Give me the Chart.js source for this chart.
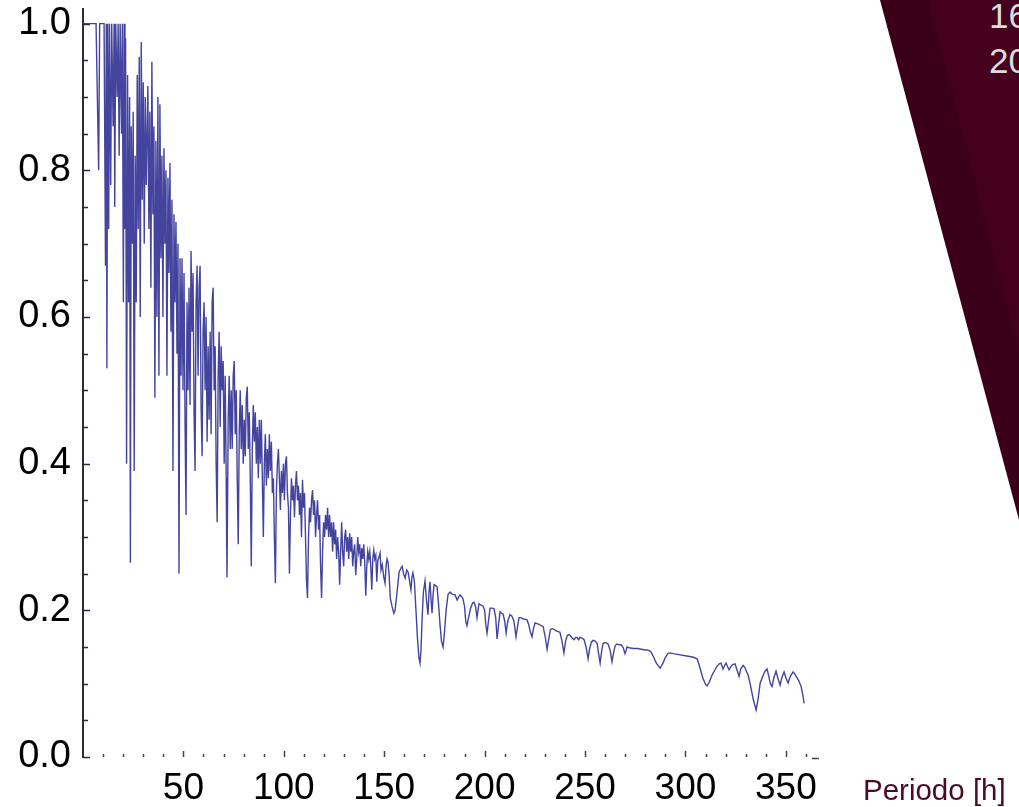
<!DOCTYPE html>
<html lang="es">
<head>
<meta charset="UTF-8">
<title>Periodo</title>
<script src="https://cdn.jsdelivr.net/npm/chart.js"></script>
<style>
  body { margin: 0; background: #fff; overflow: hidden; font-family: "Liberation Sans", Arial, sans-serif; }
  .lienzo { position: relative; width: 1019px; height: 807px; overflow: hidden; }
  .banda { position: absolute; top: 0; left: 0; width: 1019px; height: 807px; }
  .banda.oscura { background: #3b0017; clip-path: polygon(880px 0, 1019px 0, 1019px 520px); }
  .banda.clara { background: #44001c; clip-path: polygon(928px 0, 1019px 0, 1019px 350px); }
  .nota { position: absolute; left: 989px; color: #dcdcdc; font-size: 35px; line-height: 1; white-space: nowrap; }
  .titulo-x { position: absolute; left: 863px; top: 775px; font-size: 29.5px; line-height: 1; color: #4a0a26; white-space: nowrap; }
  canvas { position: absolute; top: 0; left: 0; }
</style>
</head>
<body>
<div class="lienzo">
  <div class="banda oscura"></div>
  <div class="banda clara"></div>
  <div class="nota" style="top:-2px">16</div>
  <div class="nota" style="top:43px">20</div>
  <canvas id="grafico" width="1019" height="807"></canvas>
  <div class="titulo-x">Periodo [h]</div>
</div>
<script>
  // periodo en horas
  const periodo = [
    0, 1, 6.5, 7.8, 8.3, 10.5, 11.2, 11.6, 11.9, 12.3,
    12.8, 13.2, 13.8, 14.3, 15.0, 15.5, 15.8, 16.3, 17.0, 17.5,
    18.0, 18.5, 19.2, 19.6, 20.1, 20.5, 20.9, 21.2,
    21.7, 22.2, 22.7, 23.2, 23.6, 24.0, 24.5, 25.0, 25.5, 26.0,
    26.5, 27.0, 27.5, 28.0, 28.5, 29.0, 29.5, 30.0, 30.5, 31.0,
    31.5, 32.3,
    32.8, 33.3, 33.8, 34.3, 34.8, 35.3, 35.8, 36.3, 36.8, 37.3,
    37.8, 38.3, 38.8, 39.3, 39.8, 40.3, 40.8, 41.3, 41.8, 42.3,
    42.8, 43.3, 43.8, 44.3, 44.8, 45.3, 45.8, 46.3, 46.8, 47.3,
    47.8, 48.3, 48.8, 49.3, 49.8, 50.3, 50.8, 51.3, 51.8, 52.3,
    52.8, 53.3, 53.8, 54.3, 54.8, 55.3, 55.8, 56.3, 56.8, 57.3,
    57.8, 58.3, 58.8, 59.3, 59.8, 60.3, 60.8, 61.3, 61.8, 62.3,
    62.8, 63.3, 63.8, 64.3, 64.8, 65.3, 65.8, 66.3, 66.8, 67.3,
    67.8, 68.3, 68.8, 69.3, 69.8, 70.3, 70.8, 71.3, 71.7, 72.3,
    72.8, 73.3, 73.8, 74.3, 74.8, 75.3, 75.8, 76.3, 76.8, 77.3,
    77.8, 78.3, 78.8, 79.3, 79.8, 80.3, 80.8, 81.3, 81.8, 82.3,
    82.8, 83.3, 83.8, 84.3, 84.8, 85.3, 85.8, 86.3, 86.8, 87.3,
    87.8, 88.3, 88.8, 89.3, 89.8, 90.3, 90.8, 91.3, 91.8, 92.3,
    92.8, 93.3, 93.8, 94.3, 94.8, 95.3, 95.8, 96.3, 96.8, 97.3,
    97.8, 98.3, 98.8, 99.3, 99.8, 100.3, 100.8, 101.3, 101.8, 102.3,
    102.8, 103.3, 103.8, 104.3, 104.8, 105.3, 105.8, 106.3, 106.8, 107.3,
    107.8, 108.3, 108.8, 109.3, 109.8, 110.3, 110.8, 111.3, 111.8, 112.3,
    112.8, 113.3, 113.8, 114.3, 114.8, 115.3, 115.8, 116.3, 116.8, 117.3,
    117.8, 118.3, 118.8, 119.3, 119.8, 120.3, 120.8, 121.3, 121.8, 122.3,
    122.8, 123.3, 123.8, 124.3, 124.8, 125.3, 125.8, 126.3, 126.8, 127.3,
    127.8, 128.3, 128.8, 129.3, 129.8, 130.3, 130.8, 131.3, 131.8, 132.3,
    132.8, 133.3, 133.8, 134.3, 134.8, 135.3, 135.8, 136.3, 136.8, 137.3,
    137.8, 138.3, 138.8, 139.3, 139.8, 140.3, 140.8, 141.3, 141.8, 142.3,
    142.8, 143.3, 143.8, 144.3, 144.8, 145.3, 145.8, 146.3, 146.8, 147.3,
    147.9, 148.4, 149.0, 149.8, 150.4, 150.9, 151.4, 151.9, 152.4, 153.0,
    153.9, 154.8, 155.4, 156.4, 157.4, 158.4, 158.9, 159.6, 160.4, 161.2,
    161.9, 162.6, 163.3, 163.8, 164.3, 165.0, 165.8, 166.6, 167.3, 167.8,
    168.3, 168.8, 169.5, 170.3, 171.0, 171.8, 172.3, 172.8, 173.3, 173.8,
    174.3, 174.8, 175.5, 176.3, 177.0, 177.8, 178.5, 179.3, 180.0, 180.8,
    181.8, 182.8, 183.8, 185.3, 186.3, 187.0, 187.7, 188.5, 189.2, 190.0,
    190.6, 191.2, 192.0, 193.0, 194.0, 194.7, 195.5, 196.2, 196.7, 197.2,
    198.2, 199.2, 200.0, 200.6, 201.2, 201.9, 202.7, 203.7, 204.7, 205.5,
    206.2, 206.9, 207.7, 208.5, 209.2, 210.0, 210.7, 211.5, 212.6, 213.6,
    214.6, 215.6, 216.4, 217.1, 218.1, 219.1, 220.1, 221.1, 222.0, 222.8,
    223.6, 224.4, 225.1, 226.1, 227.1, 228.1, 229.1, 230.1, 231.1, 232.0,
    232.8, 233.6, 234.6, 235.6, 236.6, 237.5, 238.5, 239.5, 240.3, 241.2,
    242.0, 242.8, 243.6, 244.5, 245.3, 246.0, 246.8, 247.5, 248.5, 249.5,
    250.5, 251.5, 252.3, 253.2, 254.0, 255.0, 256.0, 256.8, 257.5, 258.3,
    259.0, 260.0, 261.0, 261.5, 262.5, 263.4, 264.2, 265.0, 265.9, 266.9,
    267.9, 268.9, 269.9, 270.4, 270.9, 272.0, 274.0, 276.0, 278.0, 280.0,
    280.9, 282.0, 282.9, 284.0, 285.5, 287.4, 288.8, 290.0, 291.2, 292.3,
    294.0, 296.0, 298.0, 300.0, 302.0, 304.0, 305.8, 307.2, 308.6, 310.0,
    310.8, 312.0, 313.3, 314.7, 315.8, 316.8, 317.7, 318.7, 319.5, 320.2,
    321.0, 321.7, 322.5, 323.5, 324.7, 325.5, 326.7, 327.5, 328.7, 329.6,
    330.5, 331.2, 332.5, 333.8, 335.2, 336.2, 337.2, 338.5, 339.6, 340.6,
    341.5, 342.3, 343.1, 344.0, 345.1, 346.0, 347.1, 348.0, 349.1, 350.0,
    351.1, 352.2, 353.6, 354.5, 355.6, 356.6, 357.6, 358.4, 359.1
  ];

  const valor = [
    1, 1, 1, 0.80, 1, 1, 0.67, 1, 0.53, 1,
    0.72, 1, 0.78, 1, 0.86, 1, 0.75, 1, 0.90, 1,
    0.82, 1, 0.85, 1, 0.62, 1, 0.72, 0.98,
    0.40, 0.93, 0.62, 0.90, 0.265, 0.86, 0.70, 0.88, 0.39, 0.82,
    0.62, 0.93, 0.72, 0.955, 0.60, 0.975, 0.76, 0.92, 0.70, 0.90,
    0.78, 0.915,
    0.72, 0.88, 0.64, 0.948, 0.74, 0.86, 0.49, 0.84, 0.60, 0.90,
    0.52, 0.89, 0.68, 0.82, 0.60, 0.83, 0.70, 0.80, 0.52, 0.79,
    0.66, 0.81, 0.58, 0.76, 0.39, 0.74, 0.62, 0.73, 0.55, 0.70,
    0.25, 0.68, 0.52, 0.68, 0.50, 0.66, 0.46, 0.33, 0.62, 0.50,
    0.64, 0.48, 0.69, 0.58, 0.66, 0.47, 0.39, 0.62, 0.67, 0.52,
    0.64, 0.67, 0.48, 0.41, 0.58, 0.62, 0.50, 0.60, 0.43, 0.56,
    0.46, 0.58, 0.44, 0.62, 0.64, 0.50, 0.56, 0.40, 0.32, 0.52,
    0.58, 0.45, 0.56, 0.50, 0.54, 0.40, 0.52, 0.38, 0.245, 0.46,
    0.52, 0.42, 0.50, 0.42, 0.52, 0.54, 0.44, 0.50, 0.38, 0.29,
    0.44, 0.50, 0.42, 0.48, 0.40, 0.46, 0.41, 0.49, 0.505, 0.42,
    0.47, 0.38, 0.26, 0.42, 0.48, 0.43, 0.47, 0.40, 0.45, 0.38,
    0.46, 0.40, 0.46, 0.38, 0.30, 0.40, 0.44, 0.37, 0.42, 0.38,
    0.44, 0.39, 0.43, 0.36, 0.38, 0.30, 0.237, 0.36, 0.40, 0.42,
    0.38, 0.337, 0.39, 0.36, 0.40, 0.35, 0.40, 0.41, 0.36, 0.34,
    0.25, 0.33, 0.38, 0.35, 0.37, 0.327, 0.37, 0.39, 0.35, 0.37,
    0.33, 0.36, 0.30, 0.378, 0.34, 0.36, 0.30, 0.24, 0.217, 0.30,
    0.34, 0.32, 0.35, 0.364, 0.33, 0.35, 0.30, 0.33, 0.35, 0.31,
    0.33, 0.26, 0.217, 0.28, 0.32, 0.30, 0.33, 0.31, 0.34, 0.30,
    0.33, 0.30, 0.32, 0.28, 0.32, 0.29, 0.31, 0.27, 0.30, 0.28,
    0.235, 0.28, 0.32, 0.28, 0.26, 0.30, 0.31, 0.28, 0.30, 0.27,
    0.305, 0.28, 0.30, 0.26, 0.28, 0.29, 0.248, 0.27, 0.30, 0.28,
    0.29, 0.26, 0.285, 0.27, 0.29, 0.265, 0.22, 0.26, 0.28, 0.27,
    0.28, 0.26, 0.228, 0.27, 0.282, 0.27, 0.275, 0.239, 0.268, 0.272,
    0.278, 0.255, 0.262, 0.245, 0.237, 0.26, 0.27, 0.265, 0.25, 0.217,
    0.205, 0.196, 0.20, 0.225, 0.252, 0.258, 0.26, 0.25, 0.244, 0.255,
    0.252, 0.24, 0.228, 0.245, 0.251, 0.24, 0.20, 0.16, 0.135, 0.128,
    0.145, 0.185, 0.225, 0.24, 0.215, 0.194, 0.225, 0.239, 0.215, 0.196,
    0.22, 0.235, 0.234, 0.232, 0.21, 0.18, 0.158, 0.15, 0.17, 0.20,
    0.222, 0.225, 0.222, 0.221, 0.214, 0.218, 0.221, 0.219, 0.216, 0.205,
    0.185, 0.179, 0.19, 0.203, 0.21, 0.211, 0.205, 0.19, 0.20, 0.209,
    0.207, 0.206, 0.20, 0.18, 0.169, 0.185, 0.203, 0.203, 0.202, 0.19,
    0.161, 0.18, 0.198, 0.196, 0.195, 0.185, 0.169, 0.185, 0.194, 0.192,
    0.185, 0.164, 0.178, 0.19, 0.19, 0.188, 0.188, 0.187, 0.18, 0.17,
    0.164, 0.176, 0.183, 0.182, 0.181, 0.179, 0.178, 0.165, 0.147, 0.162,
    0.174, 0.175, 0.174, 0.172, 0.171, 0.17, 0.158, 0.142, 0.158, 0.166,
    0.167, 0.165, 0.162, 0.16, 0.163, 0.163, 0.16, 0.163, 0.162, 0.16,
    0.15, 0.134, 0.148, 0.157, 0.159, 0.158, 0.155, 0.14, 0.128, 0.145,
    0.155, 0.156, 0.155, 0.154, 0.145, 0.13, 0.142, 0.152, 0.154, 0.153,
    0.153, 0.15, 0.141, 0.145, 0.15, 0.149, 0.148, 0.148, 0.147, 0.146,
    0.146, 0.145, 0.143, 0.137, 0.128, 0.121, 0.128, 0.136, 0.141, 0.142,
    0.141, 0.14, 0.139, 0.138, 0.137, 0.136, 0.134, 0.122, 0.108, 0.099,
    0.097, 0.103, 0.112, 0.119, 0.124, 0.127, 0.128, 0.12, 0.125, 0.128,
    0.123, 0.119, 0.123, 0.126, 0.127, 0.12, 0.11, 0.12, 0.125, 0.122,
    0.116, 0.112, 0.096, 0.078, 0.064, 0.08, 0.101, 0.11, 0.117, 0.12,
    0.11, 0.1, 0.096, 0.108, 0.117, 0.108, 0.098, 0.108, 0.116, 0.108,
    0.101, 0.11, 0.116, 0.113, 0.108, 0.103, 0.096, 0.085, 0.073
  ];

  const marcasY = [0, 0.2, 0.4, 0.6, 0.8, 1.0];
  const marcasX = [50, 100, 150, 200, 250, 300, 350];

  const puntos = periodo.map((p, i) => ({ x: p, y: valor[i] }));

  const fuente = '"Liberation Sans", Arial, sans-serif';

  // rayitas de los ejes: hacia dentro en Y, punteadas abajo en X
  const rayitas = {
    id: 'rayitas',
    afterDraw(chart) {
      const { ctx, chartArea, scales } = chart;
      ctx.save();
      ctx.lineWidth = 1.5;
      ctx.strokeStyle = '#2b2b3b';
      for (let k = 0; k <= 20; k++) {
        const py = Math.round(scales.y.getPixelForValue(k * 0.05)) + 0.5;
        const largo = k % 4 === 0 ? 7 : 5;
        ctx.beginPath();
        ctx.moveTo(chartArea.left, py);
        ctx.lineTo(chartArea.left + largo, py);
        ctx.stroke();
      }
      ctx.strokeStyle = '#444';
      for (let v = 10; v <= 360; v += 10) {
        const px = Math.round(scales.x.getPixelForValue(v)) + 0.5;
        const largo = v % 50 === 0 ? 6 : 3;
        ctx.beginPath();
        ctx.moveTo(px, chartArea.bottom);
        ctx.lineTo(px, chartArea.bottom - largo);
        ctx.stroke();
      }
      // remate del eje X
      ctx.beginPath();
      ctx.moveTo(chartArea.right - 4, chartArea.bottom + 1.5);
      ctx.lineTo(chartArea.right + 3, chartArea.bottom + 1.5);
      ctx.stroke();
      ctx.restore();
    }
  };

  new Chart(document.getElementById('grafico'), {
    type: 'line',
    data: {
      datasets: [{
        data: puntos,
        borderColor: 'rgba(52, 52, 150, 0.92)',
        borderWidth: 1.4,
        pointRadius: 0,
        tension: 0,
        fill: false
      }]
    },
    options: {
      responsive: false,
      animation: false,
      layout: { padding: { top: 9, right: 203, left: 0, bottom: 0 } },
      plugins: { legend: { display: false }, tooltip: { enabled: false } },
      scales: {
        x: {
          type: 'linear',
          min: 0,
          max: 365,
          grid: { display: false, drawTicks: false },
          border: { display: false },
          ticks: {
            color: '#000',
            font: { family: fuente, size: 37 },
            padding: 10,
            maxRotation: 0,
            autoSkip: false
          },
          afterBuildTicks: s => { s.ticks = marcasX.map(v => ({ value: v })); },
          afterFit: s => { s.height = 50; }
        },
        y: {
          min: 0,
          max: 1.02,
          grid: { display: false, drawTicks: false },
          border: { display: true, color: '#2b2b3b', width: 2 },
          ticks: {
            color: '#000',
            font: { family: fuente, size: 38, lineHeight: 0.5 },
            padding: 12,
            callback: v => v.toFixed(1)
          },
          afterBuildTicks: s => { s.ticks = marcasY.map(v => ({ value: v })); },
          afterFit: s => {
            s.width = 83;
            s.paddingTop = 0;
            s.paddingBottom = 0;
          }
        }
      }
    },
    plugins: [rayitas]
  });
</script>
</body>
</html>
